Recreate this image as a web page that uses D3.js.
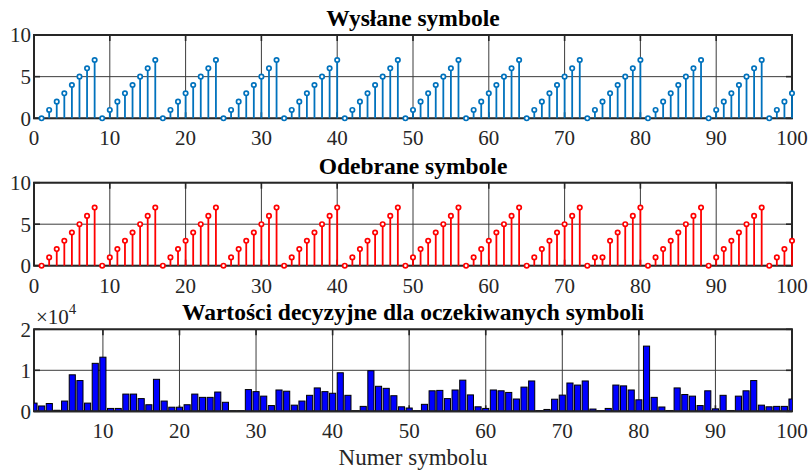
<!DOCTYPE html>
<html>
<head>
<meta charset="utf-8">
<script src="https://cdn.jsdelivr.net/npm/d3@7"></script>
<style>
  html, body { margin: 0; padding: 0; background: #fff; }
  svg { display: block; }
  svg text { font-family: "Liberation Serif", "Times New Roman", "DejaVu Serif", serif; }
</style>
</head>
<body>
<svg id="chart" width="809" height="473"></svg>
<script>
// Symbol indices 1..100
const symbolIndex = d3.range(1, 101);

// Transmitted symbols
const sentSymbols = [
  0,1,2,3,4,5,6,7, 0,1,2,3,4,5,6,7, 0,1,2,3,4,5,6,7, 0,1,2,3,4,5,6,7,
  0,1,2,3,4,5,6,7, 0,1,2,3,4,5,6,7, 0,1,2,3,4,5,6,7, 0,1,2,3,4,5,6,7,
  0,1,2,3,4,5,6,7, 0,1,2,3,4,5,6,7, 0,1,2,3,4,5,6,7, 0,1,2,3,4,5,6,7,
  0,1,2,3
];

// Received symbols (one error at n = 75)
const receivedSymbols = [
  0,1,2,3,4,5,6,7, 0,1,2,3,4,5,6,7, 0,1,2,3,4,5,6,7, 0,1,2,3,4,5,6,7,
  0,1,2,3,4,5,6,7, 0,1,2,3,4,5,6,7, 0,1,2,3,4,5,6,7, 0,1,2,3,4,5,6,7,
  0,1,2,3,4,5,6,7, 0,1,1,3,4,5,6,7, 0,1,2,3,4,5,6,7, 0,1,2,3,4,5,6,7,
  0,1,2,3
];

// Decision values for the expected symbols
const decisionValues = [
  2000, 1300, 1900, 250, 2500, 8900, 7500, 2000, 11700, 13200,
  700, 700, 4200, 4200, 3100, 1600, 7800, 2500, 1000, 1000,
  1600, 4200, 3400, 3400, 4700, 2200, 100, 100, 5300, 4800,
  3700, 1400, 5200, 4900, 1500, 2500, 3900, 5700, 4800, 4400,
  9400, 3900, 100, 1200, 9900, 6100, 5600, 3800, 1100, 800,
  100, 1700, 5000, 5100, 3100, 5200, 7600, 4000, 1100, 700,
  5200, 5000, 4600, 3000, 5900, 7400, 150, 450, 2950, 3950,
  6900, 6400, 7400, 550, 100, 700, 6400, 6200, 5200, 2800,
  15900, 3400, 1050, 200, 5700, 4100, 3700, 1400, 5000, 600,
  3900, 200, 3700, 5000, 7500, 1500, 1100, 1200, 1200, 3000
];

const stemXTicks = [0, 10, 20, 30, 40, 50, 60, 70, 80, 90, 100];
const stemYTicks = [0, 5, 10];
const barXTicks = [10, 20, 30, 40, 50, 60, 70, 80, 90, 100];
const barYTicks = [0, 10000, 20000];

const titles = ["Wysłane symbole", "Odebrane symbole", "Wartości decyzyjne dla oczekiwanych symboli"];
const xAxisLabel = "Numer symbolu";

const svg = d3.select("#chart");
const left = 34, right = 792;
const axisColor = "#262626";
const gridColor = "#3c3c3c";
const tickFont = 21, titleFont = 23.5;

function drawFrame(g, x, y, xTicks, yTicks, top, bottom, yFormat) {
  // grid
  g.append("g").selectAll("line").data(xTicks).join("line")
    .attr("x1", d => x(d)).attr("x2", d => x(d))
    .attr("y1", top).attr("y2", bottom)
    .attr("stroke", gridColor).attr("stroke-width", 1);
  g.append("g").selectAll("line").data(yTicks).join("line")
    .attr("x1", left).attr("x2", right)
    .attr("y1", d => y(d)).attr("y2", d => y(d))
    .attr("stroke", gridColor).attr("stroke-width", 1);
  // inward ticks on all sides
  const tl = 6;
  const tk = g.append("g").attr("stroke", axisColor).attr("stroke-width", 1.6);
  xTicks.forEach(d => {
    tk.append("line").attr("x1", x(d)).attr("x2", x(d)).attr("y1", bottom).attr("y2", bottom - tl);
    tk.append("line").attr("x1", x(d)).attr("x2", x(d)).attr("y1", top).attr("y2", top + tl);
  });
  yTicks.forEach(d => {
    tk.append("line").attr("x1", left).attr("x2", left + tl).attr("y1", y(d)).attr("y2", y(d));
    tk.append("line").attr("x1", right).attr("x2", right - tl).attr("y1", y(d)).attr("y2", y(d));
  });
  // box
  g.append("rect").attr("x", left).attr("y", top)
    .attr("width", right - left).attr("height", bottom - top)
    .attr("fill", "none").attr("stroke", axisColor).attr("stroke-width", 2);
  // tick labels
  g.append("g").selectAll("text").data(xTicks).join("text")
    .attr("x", d => x(d)).attr("y", bottom + 27)
    .attr("text-anchor", "middle").attr("font-size", tickFont).attr("fill", "#262626")
    .text(d => d);
  g.append("g").selectAll("text").data(yTicks).join("text")
    .attr("x", left - 3).attr("y", d => y(d)).attr("dy", "0.35em")
    .attr("text-anchor", "end").attr("font-size", tickFont).attr("fill", "#262626")
    .text(yFormat);
}

function drawTitle(text, top) {
  svg.append("text").attr("x", (left + right) / 2).attr("y", top - 9)
    .attr("text-anchor", "middle").attr("font-size", titleFont).attr("font-weight", "bold")
    .attr("fill", "#000").text(text);
}

function stemPanel(values, color, top, bottom, title) {
  const g = svg.append("g");
  const x = d3.scaleLinear().domain([0, 100]).range([left, right]);
  const y = d3.scaleLinear().domain([0, 10]).range([bottom, top]);
  drawFrame(g, x, y, stemXTicks, stemYTicks, top, bottom, d => d);
  const data = symbolIndex.map((n, i) => ({ n, v: values[i] }));
  g.append("g").selectAll("line").data(data).join("line")
    .attr("x1", d => x(d.n)).attr("x2", d => x(d.n))
    .attr("y1", y(0)).attr("y2", d => y(d.v))
    .attr("stroke", color).attr("stroke-width", 1.8);
  g.append("g").selectAll("circle").data(data).join("circle")
    .attr("cx", d => x(d.n)).attr("cy", d => y(d.v)).attr("r", 2.2)
    .attr("fill", "#fff").attr("stroke", color).attr("stroke-width", 1.7);
  drawTitle(title, top);
}

stemPanel(sentSymbols, "#0072BD", 35, 118.3, titles[0]);
stemPanel(receivedSymbols, "#FF0000", 182.7, 265.7, titles[1]);

// bar panel
(function () {
  const top = 329.3, bottom = 411.3;
  const g = svg.append("g");
  const x = d3.scaleLinear().domain([1, 100]).range([left, right]);
  const y = d3.scaleLinear().domain([0, 20000]).range([bottom, top]);
  const bw = (x(2) - x(1)) * 0.8;

  svg.append("clipPath").attr("id", "barClip")
    .append("rect").attr("x", left).attr("y", top).attr("width", right - left).attr("height", bottom - top);

  // grid + frame first, bars over them
  drawFrame(g, x, y, barXTicks, barYTicks, top, bottom, d => d / 10000);

  g.append("g").attr("clip-path", "url(#barClip)")
    .selectAll("rect").data(symbolIndex.map((n, i) => ({ n, v: decisionValues[i] }))).join("rect")
    .attr("x", d => x(d.n) - bw / 2).attr("width", bw)
    .attr("y", d => y(d.v)).attr("height", d => y(0) - y(d.v))
    .attr("fill", "#0000FF").attr("stroke", "#000").attr("stroke-width", 1);

  // bottom edge of the box over the bars
  g.append("line").attr("x1", left).attr("x2", right).attr("y1", bottom).attr("y2", bottom)
    .attr("stroke", axisColor).attr("stroke-width", 2);

  // exponent label
  const ex = svg.append("text").attr("x", 36).attr("y", 324)
    .attr("font-size", tickFont).attr("fill", "#262626");
  ex.append("tspan").text("×10");
  ex.append("tspan").attr("font-size", 15).attr("dy", -10).text("4");

  drawTitle(titles[2], top);

  svg.append("text").attr("x", (left + right) / 2).attr("y", 465)
    .attr("text-anchor", "middle").attr("font-size", 23).attr("fill", "#262626")
    .text(xAxisLabel);
})();
</script>
</body>
</html>
